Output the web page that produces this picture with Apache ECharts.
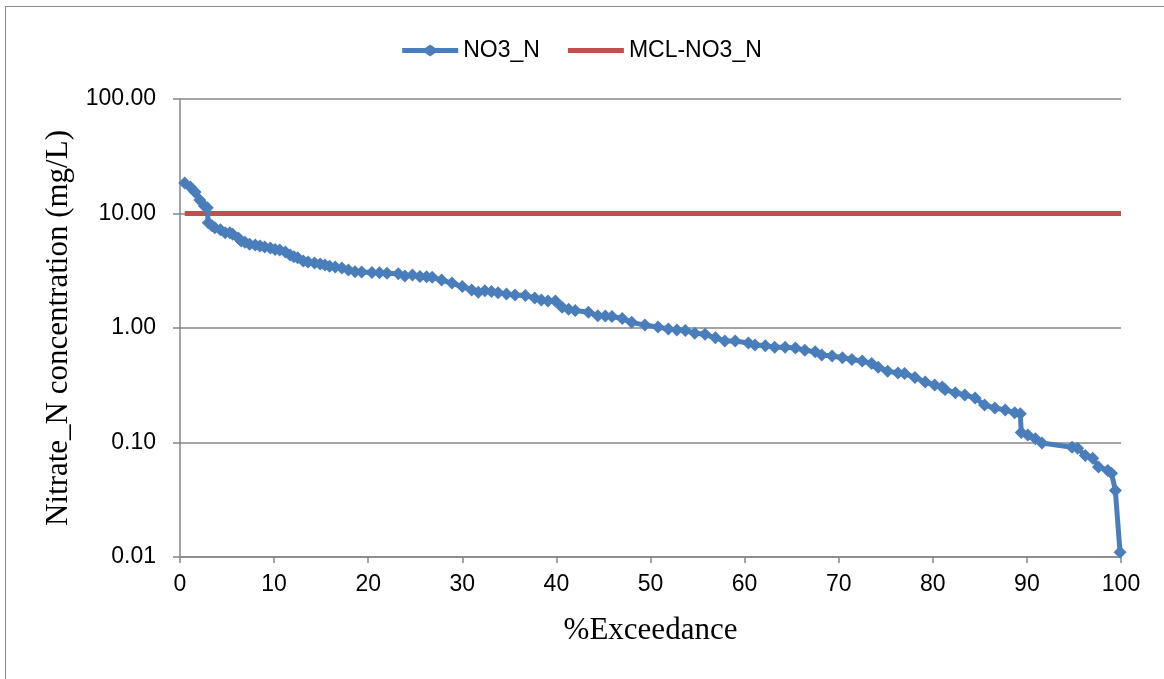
<!DOCTYPE html>
<html>
<head>
<meta charset="utf-8">
<script src="https://cdn.jsdelivr.net/npm/echarts@6/dist/echarts.min.js"></script>
<style>
html,body{margin:0;padding:0;background:#fff;}
#frame{position:absolute;left:5px;top:6px;width:1170px;height:690px;border:1px solid #8c8c8c;box-sizing:border-box;}
#chart{position:absolute;left:0;top:0;width:1164px;height:679px;}
</style>
</head>
<body>
<div id="frame"></div>
<div id="chart"></div>
<script>
const exceedance = [0.5,1.1,1.6,2.1,2.6,2.9,3.0,3.4,3.7,4.3,4.8,5.3,5.6,6.2,6.5,6.9,7.4,8.0,8.5,9.0,9.6,10.1,10.6,11.2,11.7,12.1,12.5,13.1,13.6,14.3,14.9,15.4,15.9,16.5,17.2,17.9,18.6,19.3,20.4,21.2,22.0,23.2,23.9,24.7,25.5,26.2,26.8,27.8,28.9,30.0,31.0,31.7,32.4,33.1,33.8,34.7,35.6,36.7,37.7,38.4,39.1,39.9,40.6,41.3,42.0,43.4,44.4,45.2,45.9,47.0,48.0,49.4,50.8,51.9,52.8,53.7,54.7,55.8,56.9,57.9,59.0,60.4,61.1,62.2,63.2,64.3,65.4,66.4,67.5,68.2,69.3,70.4,71.4,72.5,73.5,74.2,75.2,76.3,77.0,78.1,79.2,80.2,81.0,81.3,82.4,83.4,84.5,85.5,86.6,87.7,88.7,89.3,89.4,90.1,90.9,91.6,94.8,95.4,96.2,97.0,97.6,98.6,99.0,99.4,99.9];
const no3n = [18.5,17.0,15.4,13.1,11.6,11.2,8.3,7.8,7.5,7.2,6.8,6.8,6.6,6.1,5.75,5.6,5.4,5.3,5.2,5.1,5.0,4.85,4.8,4.6,4.35,4.2,4.1,3.85,3.77,3.7,3.62,3.55,3.47,3.41,3.34,3.21,3.1,3.08,3.05,3.03,3.0,2.98,2.85,2.9,2.82,2.8,2.78,2.62,2.47,2.3,2.15,2.05,2.12,2.08,2.03,1.98,1.94,1.92,1.83,1.76,1.72,1.72,1.52,1.46,1.42,1.37,1.28,1.27,1.26,1.21,1.12,1.06,1.02,0.98,0.96,0.95,0.9,0.88,0.82,0.77,0.77,0.74,0.71,0.7,0.68,0.68,0.67,0.64,0.62,0.58,0.57,0.55,0.53,0.515,0.49,0.455,0.42,0.405,0.4,0.37,0.337,0.318,0.305,0.29,0.272,0.26,0.245,0.213,0.2,0.192,0.182,0.178,0.122,0.116,0.108,0.099,0.091,0.089,0.077,0.073,0.061,0.057,0.054,0.038,0.011];
const mclX = [0.5, 100];
const mclY = [10, 10];
const xTicks = [0,10,20,30,40,50,60,70,80,90,100];

const chart = echarts.init(document.getElementById('chart'), null, {renderer:'canvas'});
const axisGray = '#868686';
chart.setOption({
  animation:false,
  backgroundColor:'transparent',
  legend:{
    top:34, left:'center', itemGap:28, itemWidth:56, itemHeight:12,
    textStyle:{fontFamily:'Liberation Sans', fontSize:23, color:'#000'},
    data:[
      {name:'NO3_N', icon:'path://M0,3.5 L23,3.5 L28,0 L33,3.5 L56,3.5 L56,8.5 L33,8.5 L28,12 L23,8.5 L0,8.5 Z'},
      {name:'MCL-NO3_N', icon:'path://M0,3.5 L56,3.5 L56,8.5 L0,8.5 Z M28,0 L28.01,0 L28.01,0.01 Z M28,12 L28.01,12 L28.01,11.99 Z'}
    ]
  },
  grid:{left:180, right:43, top:99, bottom:122, containLabel:false},
  xAxis:{
    type:'value', min:0, max:100, interval:10,
    name:'%Exceedance', nameLocation:'middle', nameGap:58,
    nameTextStyle:{fontFamily:'Liberation Serif', fontSize:31, color:'#000'},
    axisLine:{show:true, lineStyle:{color:axisGray, width:1.5}},
    axisTick:{show:true, inside:false, length:6, lineStyle:{color:axisGray, width:1.5}},
    axisLabel:{fontFamily:'Liberation Sans', fontSize:23, color:'#000', margin:16,
      formatter:v=>xTicks.includes(v)?String(v):''},
    splitLine:{show:false}
  },
  yAxis:{
    type:'log', logBase:10, min:0.01, max:100,
    name:'Nitrate_N concentration (mg/L)', nameLocation:'middle', nameGap:106, nameRotate:90,
    nameTextStyle:{fontFamily:'Liberation Serif', fontSize:31, color:'#000'},
    axisLine:{show:true, lineStyle:{color:axisGray, width:1.5}},
    axisTick:{show:true, inside:false, length:7, lineStyle:{color:axisGray, width:1.5}},
    axisLabel:{fontFamily:'Liberation Sans', fontSize:23, color:'#000', margin:24,
      formatter:v=>Number(v).toFixed(2)},
    splitLine:{show:true, lineStyle:{color:axisGray, width:1.5}},
    minorTick:{show:false}
  },
  series:[
    {
      name:'NO3_N', type:'line',
      data:exceedance.map((x,i)=>[x,no3n[i]]),
      symbol:'diamond', symbolSize:13, showSymbol:true,
      lineStyle:{color:'#4a7ebb', width:5},
      itemStyle:{color:'#4a7ebb'},
      z:3
    },
    {
      name:'MCL-NO3_N', type:'line',
      data:mclX.map((x,i)=>[x,mclY[i]]),
      symbol:'none', showSymbol:false,
      lineStyle:{color:'#c0504d', width:5},
      itemStyle:{color:'#c0504d'},
      z:2
    }
  ]
});
</script>
</body>
</html>
